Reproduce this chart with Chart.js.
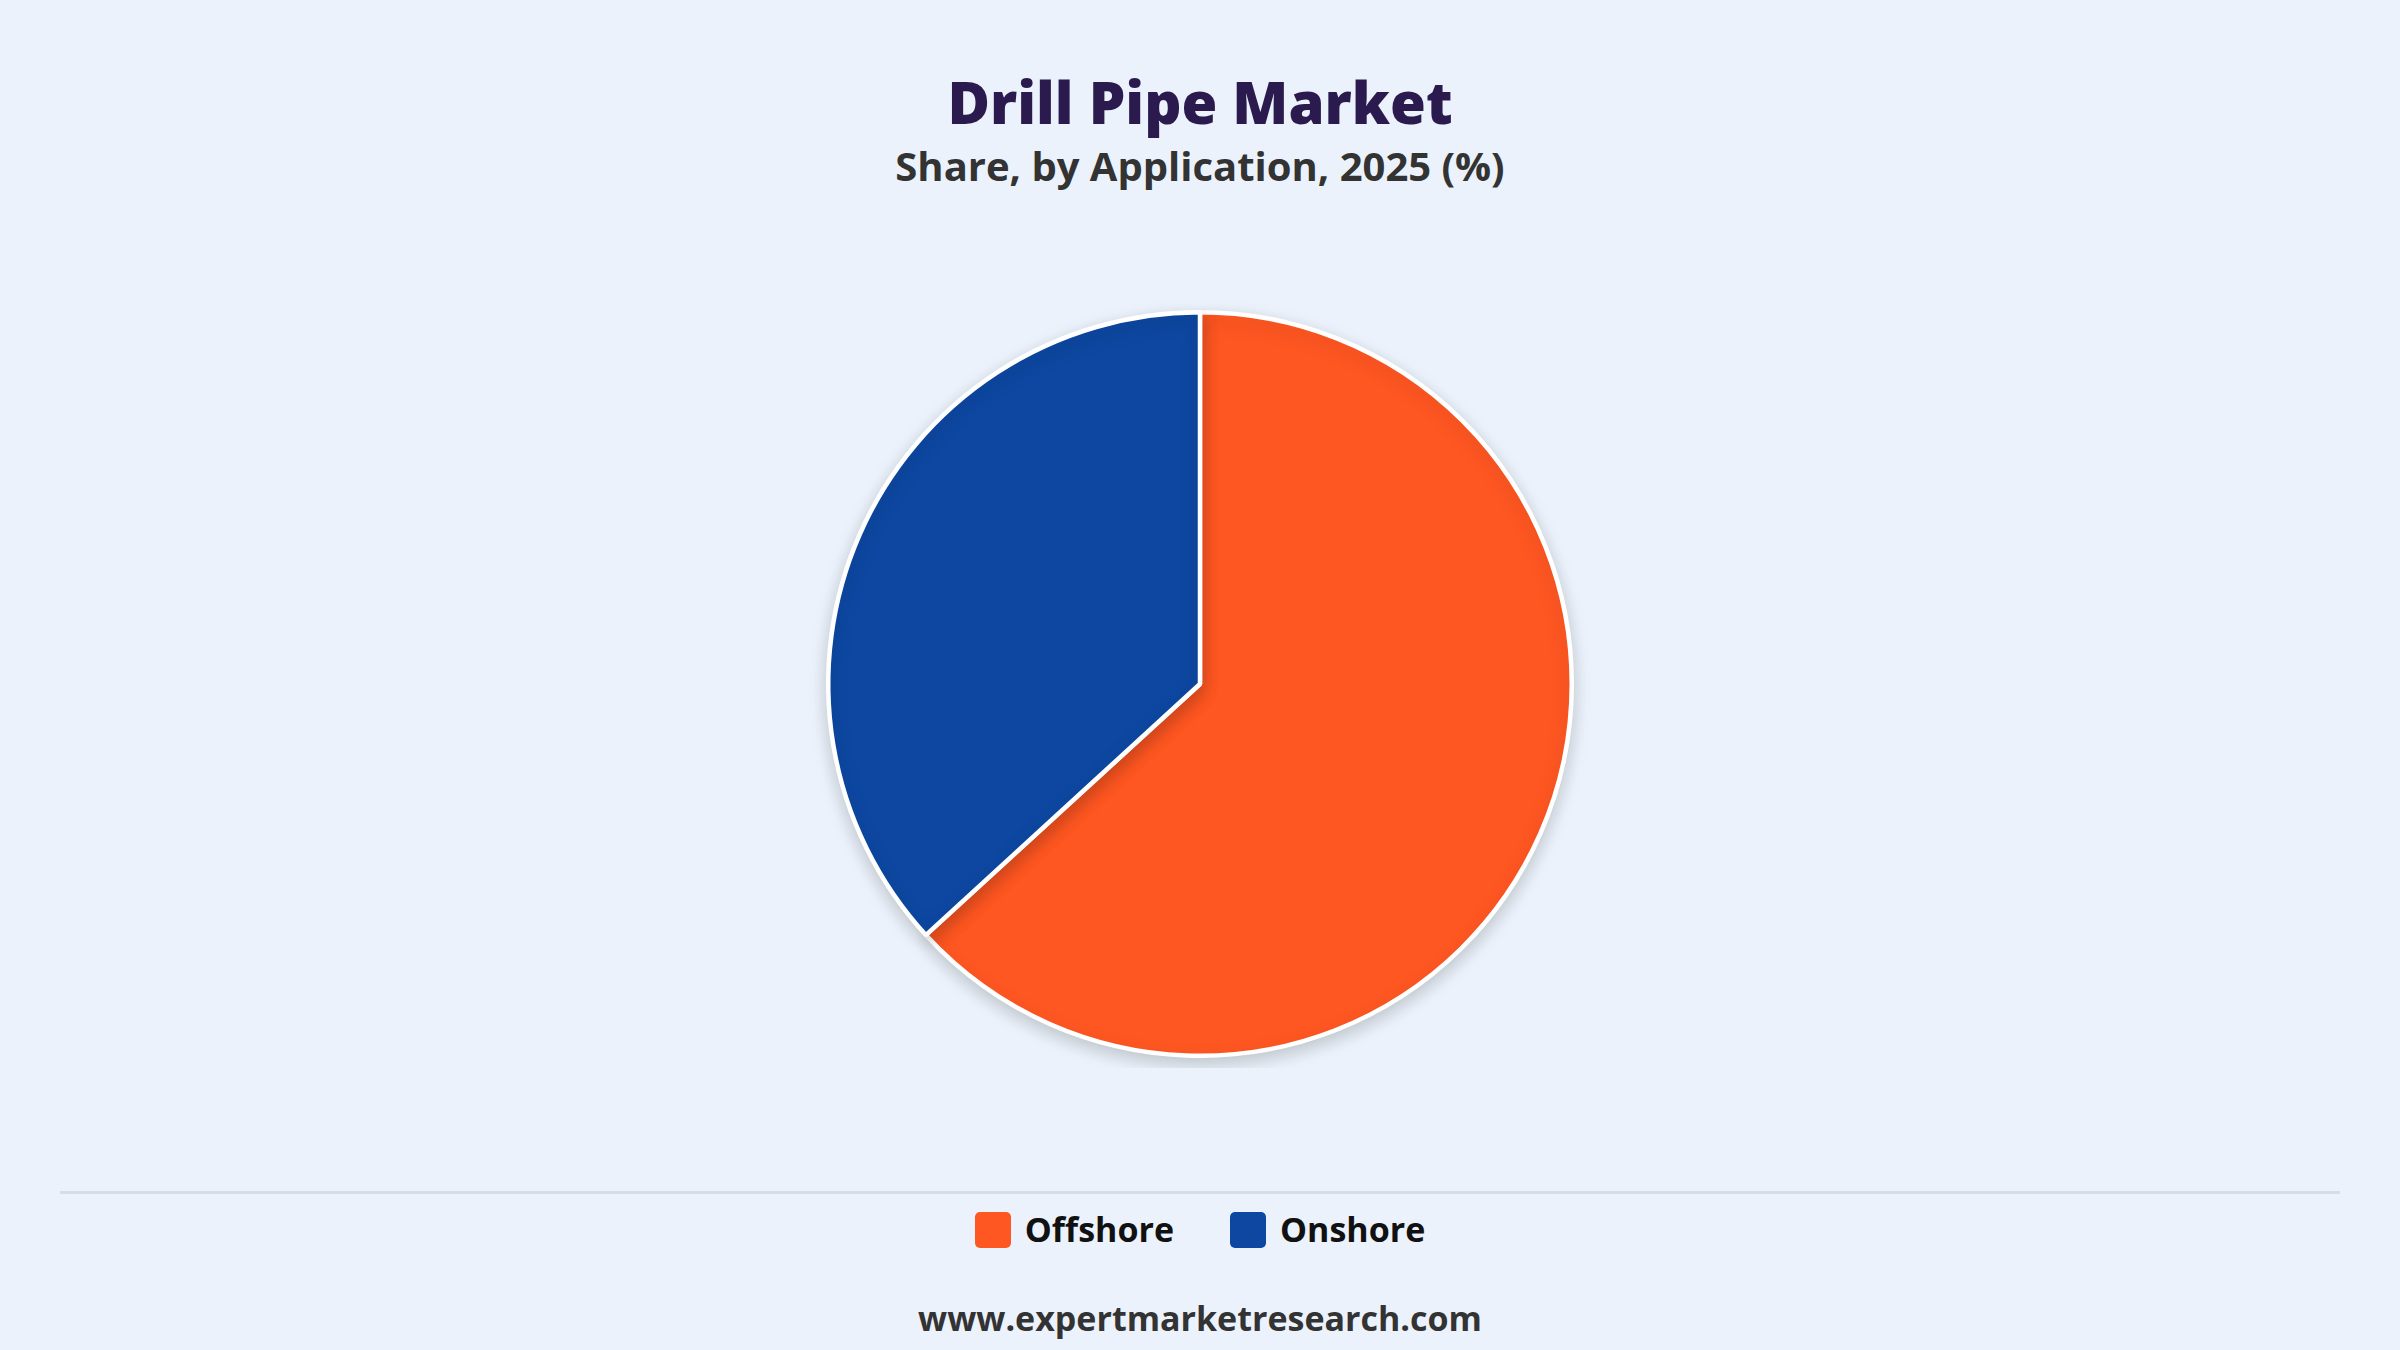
<!DOCTYPE html>
<html>
<head>
<meta charset="utf-8">
<script src="https://cdn.jsdelivr.net/npm/chart.js@4"></script>
<style>
  body { margin: 0; background: #ebf2fb; font-family: "Open Sans", "Noto Sans", sans-serif; }
  #wrap { position: relative; width: 2400px; height: 1350px; }
  .title { position: absolute; left: 0; width: 2400px; text-align: center; top: 62px; font-size: 58px; font-weight: 800; color: #2b1a4d; }
  .sub { position: absolute; left: 0; width: 2400px; text-align: center; top: 138px; font-size: 40px; font-weight: 700; color: #333; }
  #pie-box { position: absolute; left: 0; top: 300px; width: 2400px; height: 768px; }
  .rule { position: absolute; left: 60px; width: 2280px; top: 1191px; border-top: 3px solid #d8dde4; }
  #legend { position: absolute; left: 0; width: 2400px; top: 1206px; text-align: center; font-size: 34px; font-weight: 700; color: #111; }
  #legend span.item { display: inline-block; margin: 0 28px; }
  #legend span.box { display: inline-block; width: 36px; height: 36px; border-radius: 5px; vertical-align: -6px; margin-right: 14px; }
  .foot { position: absolute; left: 0; width: 2400px; text-align: center; top: 1295px; font-size: 34px; font-weight: 700; color: #333; }
</style>
</head>
<body>
<div id="wrap">
  <div class="title">Drill Pipe Market</div>
  <div class="sub">Share, by Application, 2025 (%)</div>
  <div id="pie-box"><canvas id="pie"></canvas></div>
  <div class="rule"></div>
  <div id="legend"></div>
  <div class="foot">www.expertmarketresearch.com</div>
</div>
<script>
const categories = ["Offshore", "Onshore"];
const shares = [63.2, 36.8];
const colors = ["#ff5722", "#0d47a1"];

// html legend from the same arrays
document.getElementById("legend").innerHTML = categories.map((c, i) =>
    '<span class="item"><span class="box" style="background:' + colors[i] + '"></span>' + c + '</span>'
).join("");

const shadow = {
    id: "shadow",
    beforeDatasetsDraw(chart) {
        const ctx = chart.ctx;
        ctx.save();
        ctx.shadowColor = "rgba(0,0,0,0.18)";
        ctx.shadowBlur = 18;
        ctx.shadowOffsetY = 6;
    },
    afterDatasetsDraw(chart) {
        chart.ctx.restore();
    }
};

new Chart(document.getElementById("pie"), {
    type: "pie",
    data: {
        labels: categories,
        datasets: [{
            data: shares,
            backgroundColor: colors,
            borderColor: "#ffffff",
            borderWidth: 4.5
        }]
    },
    options: {
        responsive: true,
        maintainAspectRatio: false,
        animation: false,
        layout: { padding: 10 },
        plugins: {
            legend: { display: false },
            tooltip: { enabled: false }
        }
    },
    plugins: [shadow]
});
</script>
</body>
</html>
